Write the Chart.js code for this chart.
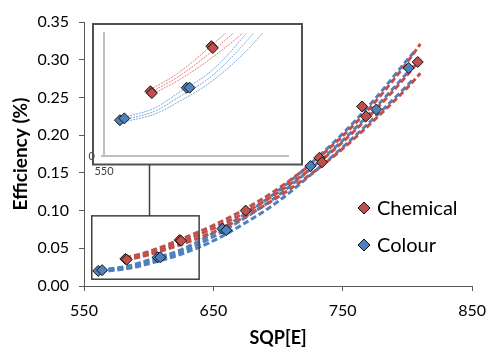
<!DOCTYPE html>
<html>
<head>
<meta charset="utf-8">
<script src="https://cdn.jsdelivr.net/npm/chart.js@4/dist/chart.umd.min.js"></script>
<style>
  html, body { margin: 0; padding: 0; background: #fff; }
  #wrap { position: relative; width: 496px; height: 349px; overflow: hidden; }
  #main { position: absolute; left: 0; top: 0; }
  #inset { position: absolute; left: 80px; top: 20px; }
</style>
</head>
<body>
<div id="wrap">
  <canvas id="main" width="496" height="349"></canvas>
  <canvas id="inset" width="230" height="165"></canvas>
</div>
<script>
// ---- measured samples ----
const chemicalX = [582, 583, 624, 625, 675, 732, 734, 765, 768, 808];
const chemicalY = [0.036, 0.035, 0.061, 0.060, 0.100, 0.170, 0.164, 0.238, 0.225, 0.297];

const colourX = [561, 564, 607, 609, 657, 660, 725, 776, 801];
const colourY = [0.020, 0.021, 0.038, 0.038, 0.076, 0.074, 0.159, 0.234, 0.289];

// ---- fitted trend and its bounds ----
const chemFitX    = [582, 600, 625, 650, 675, 700, 725, 750, 775, 800, 810];
const chemFitY    = [0.0355, 0.0435, 0.0585, 0.0765, 0.098, 0.124, 0.155, 0.191, 0.233, 0.280, 0.301];
const chemUpperY  = [0.037, 0.0455, 0.062, 0.0805, 0.1025, 0.129, 0.161, 0.199, 0.244, 0.297, 0.321];
const chemLowerY  = [0.034, 0.0415, 0.055, 0.0715, 0.0925, 0.118, 0.148, 0.182, 0.221, 0.263, 0.282];

const colourFitX   = [562, 585, 600, 625, 650, 675, 700, 725, 750, 775, 800, 805];
const colourFitY   = [0.020, 0.025, 0.032, 0.045, 0.0655, 0.091, 0.120, 0.155, 0.193, 0.236, 0.283, 0.293];
const colourUpperY = [0.0212, 0.0268, 0.0345, 0.048, 0.070, 0.096, 0.126, 0.162, 0.202, 0.248, 0.300, 0.310];
const colourLowerY = [0.0188, 0.0234, 0.0295, 0.042, 0.060, 0.084, 0.112, 0.147, 0.184, 0.224, 0.266, 0.275];

// ---- axes ----
const xRange = [550, 850];
const yRange = [0, 0.35];
const insetXRange = [550, 677];
const insetYRange = [0, 0.0683];
const zoomWindowX = [556, 639];
const zoomWindowY = [0.009, 0.093];
const connectorX = 600;

const RED = '#C0504D';
const BLUE = '#4F81BD';
const INSET_BOX = { left: 93, top: 24, right: 302, bottom: 164.5 };
const INSET_OFFSET = { left: 80, top: 20 };

const pts = (xs, ys) => xs.map((x, i) => ({ x: x, y: ys[i] }));

function markerSet(label, xs, ys, color, r) {
  return {
    label: label, data: pts(xs, ys), showLine: false,
    pointStyle: 'rectRot', pointRadius: r, pointHoverRadius: r,
    pointBackgroundColor: color, pointBorderColor: '#111', pointBorderWidth: 1,
    legendEntry: true
  };
}
function curveSet(xs, ys, color, width, dash) {
  return {
    data: pts(xs, ys), showLine: true, pointRadius: 0, pointHoverRadius: 0,
    borderColor: color, borderWidth: width, borderDash: dash,
    cubicInterpolationMode: 'monotone', fill: false
  };
}

// legend drawn inside the plot, lower right
const sideLegend = {
  id: 'sideLegend',
  afterDraw(chart) {
    const ctx = chart.ctx;
    const items = chart.data.datasets.filter(d => d.legendEntry);
    ctx.save();
    ctx.font = '20px Lato';
    ctx.textBaseline = 'middle';
    ctx.fillStyle = '#000';
    items.forEach((d, i) => {
      const cx = 364, cy = 208 + i * 37, r = 6;
      ctx.beginPath();
      ctx.moveTo(cx - r, cy); ctx.lineTo(cx, cy - r);
      ctx.lineTo(cx + r, cy); ctx.lineTo(cx, cy + r); ctx.closePath();
      ctx.fillStyle = d.pointBackgroundColor; ctx.fill();
      ctx.lineWidth = 1; ctx.strokeStyle = '#111'; ctx.stroke();
      ctx.fillStyle = '#000';
      ctx.fillText(d.label, 377, cy + 1);
    });
    ctx.restore();
  }
};

// small frame around the magnified region plus its leader line
const zoomMarker = {
  id: 'zoomMarker',
  afterDatasetsDraw(chart) {
    const { ctx, scales: { x, y } } = chart;
    const l = x.getPixelForValue(zoomWindowX[0]), r = x.getPixelForValue(zoomWindowX[1]);
    const t = y.getPixelForValue(zoomWindowY[1]), b = y.getPixelForValue(zoomWindowY[0]);
    ctx.save();
    ctx.strokeStyle = '#404040';
    ctx.lineWidth = 1.5;
    ctx.strokeRect(l, t, r - l, b - t);
    const cx = Math.round(x.getPixelForValue(connectorX)) + 0.5;
    ctx.beginPath();
    ctx.moveTo(cx, t);
    ctx.lineTo(cx, INSET_BOX.bottom);
    ctx.stroke();
    ctx.restore();
  }
};

const tickFont = { family: 'Lato', size: 16 };

new Chart(document.getElementById('main'), {
  type: 'scatter',
  data: {
    datasets: [
      markerSet('Chemical', chemicalX, chemicalY, RED, 5.5),
      markerSet('Colour', colourX, colourY, BLUE, 5.5),
      curveSet(chemFitX, chemUpperY, RED, 3, [6, 3]),
      curveSet(chemFitX, chemFitY, RED, 3, [6, 3]),
      curveSet(chemFitX, chemLowerY, RED, 3, [6, 3]),
      curveSet(colourFitX, colourUpperY, BLUE, 3, [6, 3]),
      curveSet(colourFitX, colourFitY, BLUE, 3, [6, 3]),
      curveSet(colourFitX, colourLowerY, BLUE, 3, [6, 3])
    ]
  },
  options: {
    responsive: false, animation: false, devicePixelRatio: 1,
    layout: { padding: { left: 0, right: 17, top: 22, bottom: 0 } },
    plugins: { legend: { display: false }, tooltip: { enabled: false } },
    scales: {
      x: {
        type: 'linear', min: xRange[0], max: xRange[1],
        ticks: { stepSize: 100, font: tickFont, color: '#000', padding: 10, maxRotation: 0 },
        grid: { drawOnChartArea: false, drawTicks: true, tickLength: 5, color: '#595959' },
        border: { color: '#595959' },
        title: { display: true, text: 'SQP[E]', color: '#000',
                 font: { family: 'Lato', size: 18, weight: 'bold' }, padding: { top: 0, bottom: 0 } },
        afterFit(s) { s.height = 63; }
      },
      y: {
        type: 'linear', min: yRange[0], max: yRange[1],
        ticks: { stepSize: 0.05, font: tickFont, color: '#000', padding: 10,
                 callback: v => Number(v).toFixed(2) },
        grid: { drawOnChartArea: false, drawTicks: true, tickLength: 5, color: '#595959' },
        border: { color: '#595959' },
        title: { display: true, text: 'Efficiency (%)', color: '#000',
                 font: { family: 'Lato', size: 19, weight: 'bold' }, padding: { top: 9, bottom: 0 } },
        afterFit(s) { s.width = 84; }
      }
    }
  },
  plugins: [sideLegend, zoomMarker]
});

// magnified view
const insetFrame = {
  id: 'insetFrame',
  beforeDraw(chart) {
    const ctx = chart.ctx;
    ctx.save();
    ctx.fillStyle = '#fff';
    ctx.fillRect(INSET_BOX.left - INSET_OFFSET.left, INSET_BOX.top - INSET_OFFSET.top,
                 INSET_BOX.right - INSET_BOX.left, INSET_BOX.bottom - INSET_BOX.top);
    ctx.restore();
  },
  afterDraw(chart) {
    const ctx = chart.ctx;
    ctx.save();
    ctx.strokeStyle = '#505050';
    ctx.lineWidth = 2;
    ctx.strokeRect(INSET_BOX.left - INSET_OFFSET.left, INSET_BOX.top - INSET_OFFSET.top,
                   INSET_BOX.right - INSET_BOX.left, INSET_BOX.bottom - INSET_BOX.top);
    ctx.restore();
  }
};
const keepFirst = s => { s.ticks = s.ticks.filter(t => t.value === s.min); };
const RED_LIGHT = '#E0807D';
const BLUE_LIGHT = '#7FA7DA';

new Chart(document.getElementById('inset'), {
  type: 'scatter',
  data: {
    datasets: [
      markerSet('Chemical', chemicalX, chemicalY, RED, 5.5),
      markerSet('Colour', colourX, colourY, BLUE, 5.5),
      curveSet(chemFitX, chemUpperY, RED_LIGHT, 1, [2, 1]),
      curveSet(chemFitX, chemFitY, RED_LIGHT, 1, [2, 1]),
      curveSet(chemFitX, chemLowerY, RED_LIGHT, 1, [2, 1]),
      curveSet(colourFitX, colourUpperY, BLUE_LIGHT, 1, [2, 1]),
      curveSet(colourFitX, colourFitY, BLUE_LIGHT, 1, [2, 1]),
      curveSet(colourFitX, colourLowerY, BLUE_LIGHT, 1, [2, 1])
    ]
  },
  options: {
    responsive: false, animation: false, devicePixelRatio: 1,
    layout: { padding: { left: 0, right: 21.7, top: 13, bottom: 0 } },
    plugins: { legend: { display: false }, tooltip: { enabled: false } },
    scales: {
      x: {
        type: 'linear', min: insetXRange[0], max: insetXRange[1],
        afterBuildTicks: keepFirst,
        ticks: { font: { family: 'Lato', size: 11 }, color: '#404040', padding: 9, maxRotation: 0 },
        grid: { drawOnChartArea: false, drawTicks: false },
        border: { color: '#BFBFBF', width: 2 },
        afterFit(s) { s.height = 28.7; }
      },
      y: {
        type: 'linear', min: insetYRange[0], max: insetYRange[1],
        afterBuildTicks: keepFirst,
        ticks: { font: { family: 'Lato', size: 11 }, color: '#404040', padding: 6,
                 callback: v => String(v) },
        grid: { drawOnChartArea: false, drawTicks: true, tickLength: 3, color: '#BFBFBF', lineWidth: 2 },
        border: { color: '#BFBFBF', width: 2 },
        afterFit(s) { s.width = 24; }
      }
    }
  },
  plugins: [insetFrame]
});
</script>
</body>
</html>
